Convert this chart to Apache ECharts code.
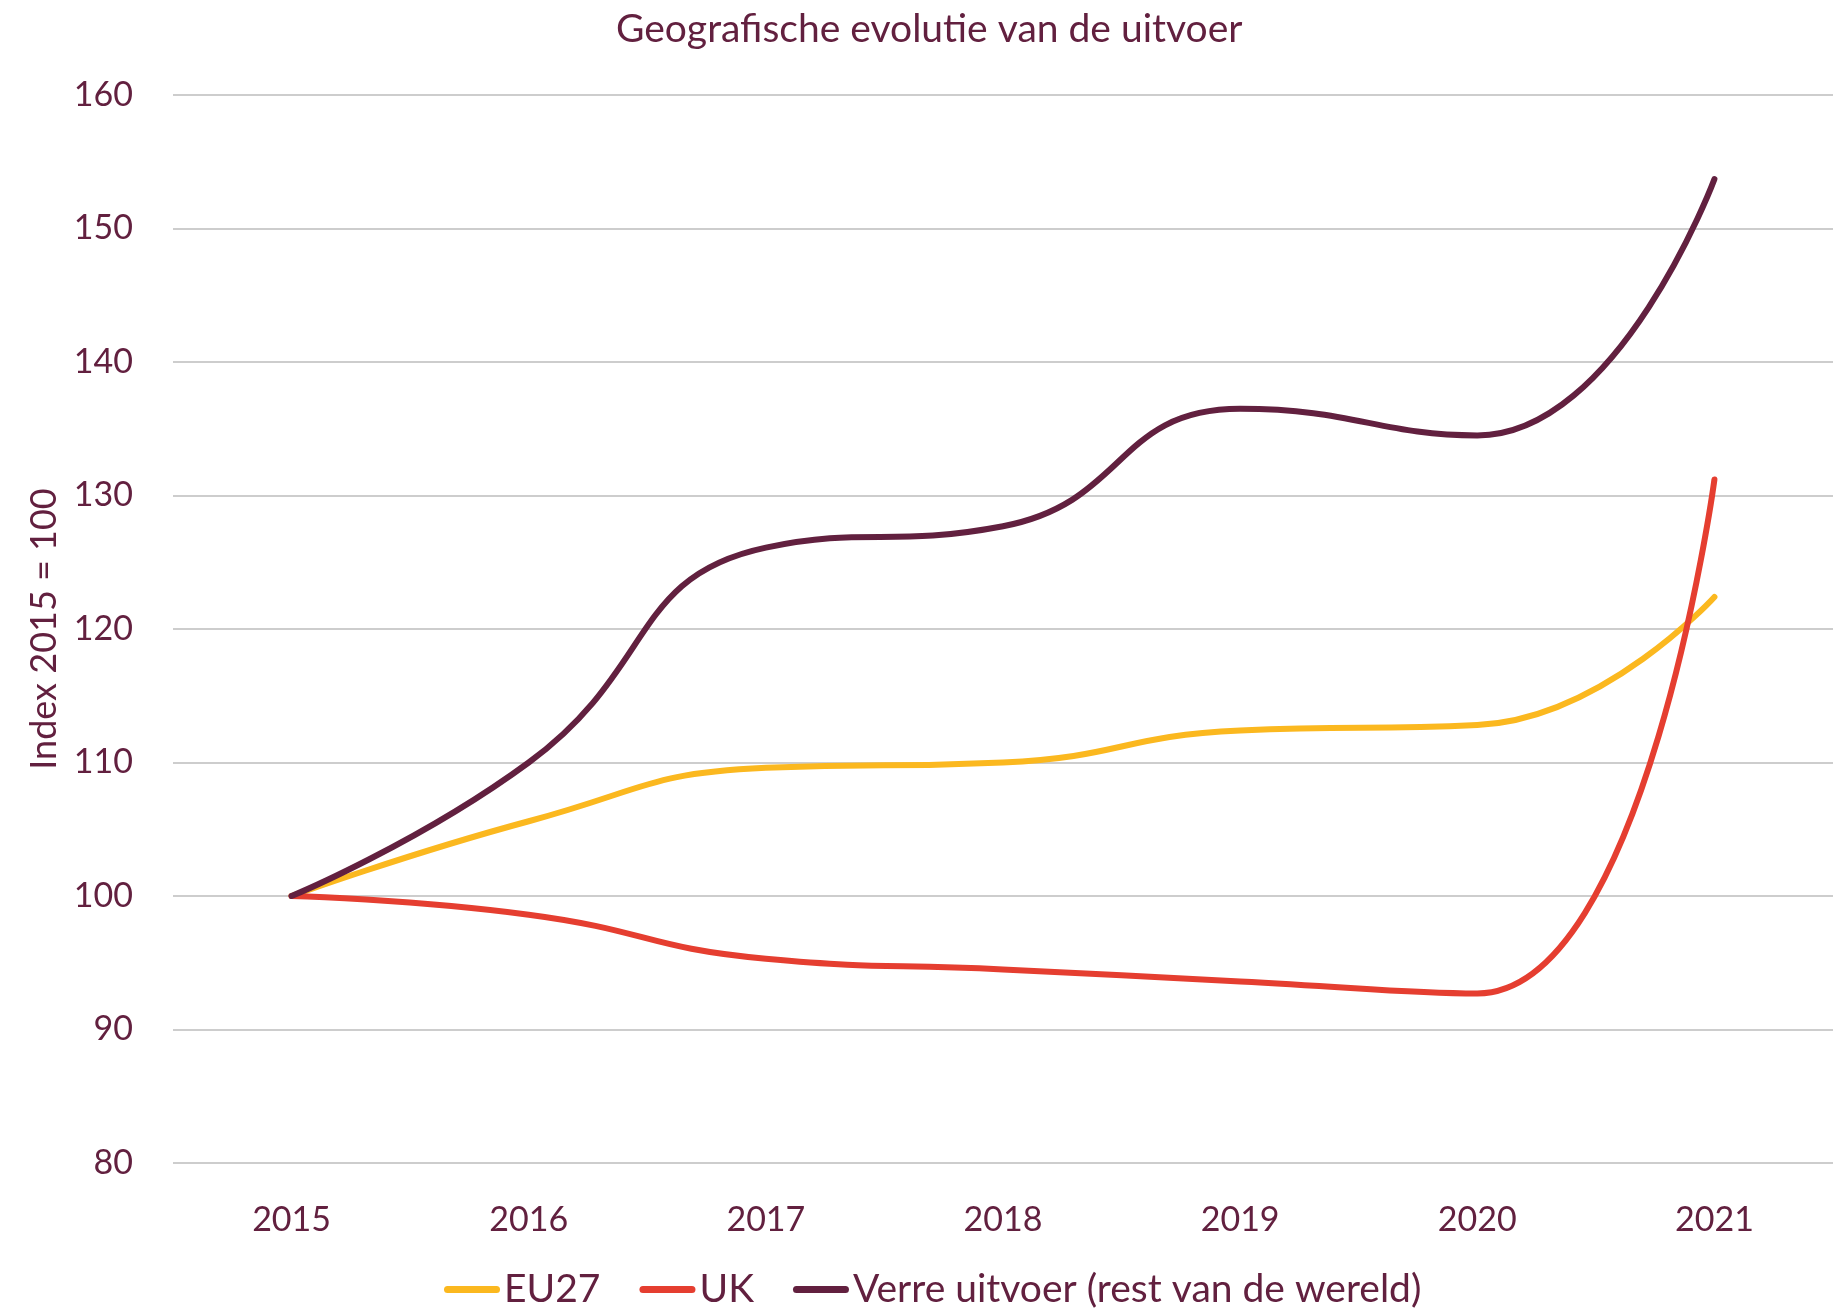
<!DOCTYPE html>
<html>
	<head>
		<meta charset="utf-8" />
		<title>Geografische evolutie van de uitvoer</title>
		<script type="text/javascript" src="https://cdn.jsdelivr.net/npm/echarts@6/dist/echarts.min.js"></script>
	</head>
	<body style="margin:0;background:#fff;">
		<div id="chart" style="width:1833px;height:1308px;"></div>
	</body>
	<script>
	// jaren en indexwaarden (2015 = 100)
	var jaren = ['2015', '2016', '2017', '2018', '2019', '2020', '2021'];
	var eu27 = [100, 105.6, 109.6, 110.0, 112.4, 112.8, 122.4];
	var uk = [100, 98.6, 95.3, 94.5, 93.6, 92.7, 131.2];
	var verre = [100, 110.0, 126.1, 127.7, 136.5, 134.5, 153.7];

	var tekst = '#62203f';
	var font = 'Lato';
	var capsule = 'path://M3.5,0 H52.5 A3.5,3.5 0 0 1 52.5,7 H3.5 A3.5,3.5 0 0 1 3.5,0 Z';

	var myChart = echarts.init(document.getElementById('chart'), null, {renderer: 'canvas'});

	function lijn(naam, data, kleur) {
		return {
			name: naam,
			type: 'line',
			data: data,
			smooth: 0.5,
			showSymbol: false,
			symbol: 'none',
			lineStyle: {color: kleur, width: 6, cap: 'round', join: 'round'},
			itemStyle: {color: kleur}
		};
	}

	var option = {
		animation: false,
		backgroundColor: '#fff',
		title: {
			text: 'Geografische evolutie van de uitvoer',
			left: 611,
			top: 5,
			textStyle: {color: tekst, fontFamily: font, fontSize: 39, fontWeight: 'normal'}
		},
		legend: {
			bottom: -6,
			left: 444,
			padding: [5, 0, 5, 0],
			itemWidth: 56,
			itemHeight: 7,
			itemGap: 39,
			icon: capsule,
			textStyle: {color: tekst, fontFamily: font, fontSize: 39, padding: [0, 0, 0, -1]},
			data: ['EU27', 'UK', 'Verre uitvoer (rest van de wereld)']
		},
		grid: {
			left: 173,
			right: 0,
			top: 95,
			bottom: 145,
			containLabel: false,
			outerBoundsMode: 'none'
		},
		xAxis: {
			type: 'category',
			data: jaren,
			boundaryGap: true,
			axisLine: {show: false},
			axisTick: {show: false},
			axisLabel: {color: tekst, fontFamily: font, fontSize: 34, margin: 40}
		},
		yAxis: {
			type: 'value',
			min: 80,
			max: 160,
			interval: 10,
			name: 'Index 2015 = 100',
			nameLocation: 'middle',
			nameGap: 111,
			nameTextStyle: {color: tekst, fontFamily: font, fontSize: 36},
			axisLine: {show: false},
			axisTick: {show: false},
			axisLabel: {color: tekst, fontFamily: font, fontSize: 34, margin: 40},
			splitLine: {show: true, lineStyle: {color: '#bcbcbc', width: 1.5}}
		},
		series: [
			lijn('EU27', eu27, '#fbb81f'),
			lijn('UK', uk, '#e53e30'),
			lijn('Verre uitvoer (rest van de wereld)', verre, '#62203f')
		]
	};
	myChart.setOption(option);
	window.addEventListener('resize', myChart.resize);
	</script>
</html>
